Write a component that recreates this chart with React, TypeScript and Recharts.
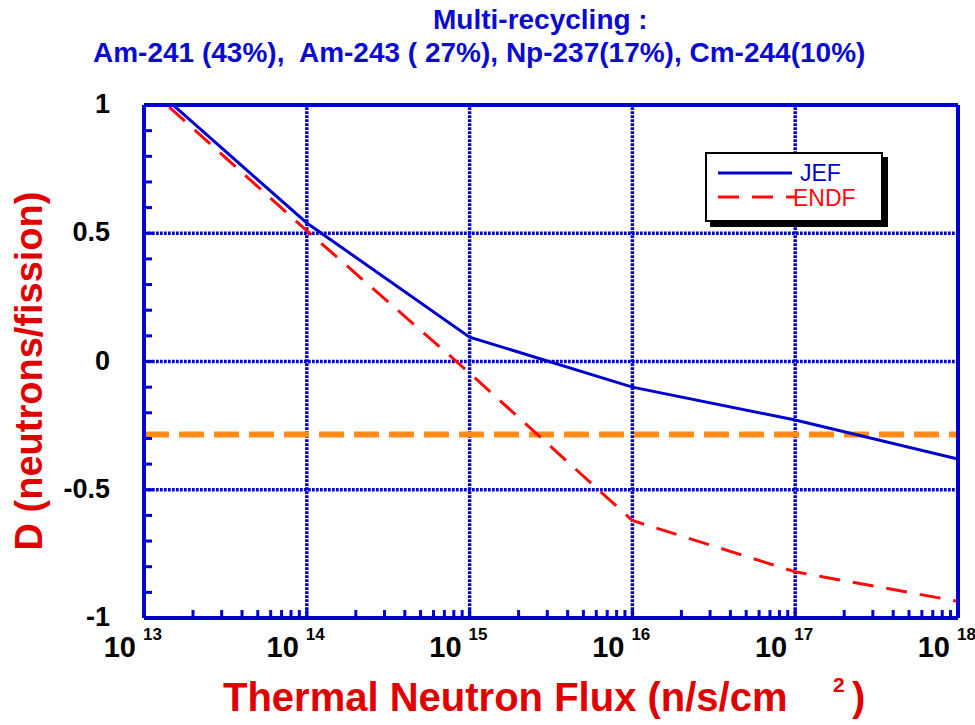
import { LineChart, Line, XAxis, YAxis, ReferenceLine, Legend } from 'recharts'

// values
const flux = [1e13, 1e14, 1e15, 1e16, 1e17, 1e18]
const jef = [1.1, 0.54, 0.095, -0.1, -0.228, -0.38]
const endf = [1.08, 0.51, -0.045, -0.62, -0.82, -0.935]
const threshold = -0.285

const decades = [1e13, 1e14, 1e15, 1e16, 1e17, 1e18]
const minorSteps = [1, 2, 3, 4, 5, 6, 7, 8, 9]
const yTicks = [-1, -0.9, -0.8, -0.7, -0.6, -0.5, -0.4, -0.3, -0.2, -0.1, 0, 0.1, 0.2, 0.3, 0.4, 0.5, 0.6, 0.7, 0.8, 0.9, 1]
const yLabels = [-1, -0.5, 0, 0.5, 1]
const xGrid = [1e14, 1e15, 1e16, 1e17]
const yGrid = [-0.5, 0, 0.5]

const seriesNames = ['JEF', 'ENDF']
const seriesColors = ['#0000cc', '#ff0a0a']
const seriesDash = [undefined, '21 13']

const data = flux.map((f, i) => ({ flux: f, jef: jef[i], endf: endf[i] }))
const xTicks = decades.flatMap(d => (d === 1e18 ? [d] : minorSteps.map(m => m * d)))

const BLUE = '#0000cc'
const FONT = '"Liberation Sans", Arial, sans-serif'

function FluxTick({ x, y, payload }: any) {
  const lg = Math.log10(payload.value)
  if (Math.abs(lg - Math.round(lg)) > 1e-6) return <g />
  return (
    <g fontFamily={FONT} fontWeight="bold" fill="#000">
      <text x={x - 8} y={y} textAnchor="end" fontSize={29}>10</text>
      <text x={x - 1} y={y - 17} fontSize={17}>{Math.round(lg)}</text>
    </g>
  )
}

function DTick({ x, y, payload }: any) {
  if (!yLabels.some(v => Math.abs(v - payload.value) < 1e-6)) return <g />
  return (
    <text x={x} y={y + 8} textAnchor="end" fontFamily={FONT} fontWeight="bold" fontSize={27} fill="#000">
      {payload.value}
    </text>
  )
}

function LegendBox() {
  return (
    <div style={{ width: 174, height: 66, border: '2px solid #000', boxShadow: '5px 5px 0 #000', background: '#fff' }}>
      <svg width={174} height={66} style={{ display: 'block' }}>
        {seriesNames.map((n, i) => (
          <g key={n}>
            <line x1={11} x2={i ? 88 : 85} y1={19 + i * 24} y2={19 + i * 24} stroke={seriesColors[i]} strokeWidth={3} strokeDasharray={seriesDash[i]} />
            <text x={i ? 86 : 93} y={27 + i * 25} fontFamily={FONT} fontSize={23} fill={seriesColors[i]}>{n}</text>
          </g>
        ))}
      </svg>
    </div>
  )
}

export default function App() {
  const gridStyle = { stroke: BLUE, strokeWidth: 3.5, strokeDasharray: '2.7 1.3' }
  return (
    <div style={{ position: 'absolute', left: 0, top: 0, width: 975, height: 725, background: '#fff' }}>
      <LineChart width={975} height={725} data={data} margin={{ top: 75, right: 0, bottom: 0, left: 0 }}>
        <XAxis
          xAxisId="main" dataKey="flux" type="number" scale="log" domain={[1e13, 1e18]} allowDataOverflow
          ticks={xTicks} interval={0} height={107} tickSize={-8} tickMargin={47}
          axisLine={{ stroke: BLUE, strokeWidth: 4 }} tickLine={{ stroke: BLUE, strokeWidth: 3 }} tick={<FluxTick />}
        />
        <XAxis
          xAxisId="top" orientation="top" type="number" scale="log" domain={[1e13, 1e18]} allowDataOverflow
          ticks={xTicks} interval={0} height={30} tickSize={-8} tick={false}
          axisLine={{ stroke: BLUE, strokeWidth: 4 }} tickLine={{ stroke: BLUE, strokeWidth: 3 }}
        />
        <YAxis
          yAxisId="left" type="number" domain={[-1, 1]} allowDataOverflow ticks={yTicks} interval={0}
          width={144} tickSize={-8} tickMargin={42}
          axisLine={{ stroke: BLUE, strokeWidth: 4 }} tickLine={{ stroke: BLUE, strokeWidth: 3 }} tick={<DTick />}
        />
        <YAxis
          yAxisId="right" orientation="right" type="number" domain={[-1, 1]} allowDataOverflow ticks={yTicks} interval={0}
          width={17} tickSize={-8} tick={false}
          axisLine={{ stroke: BLUE, strokeWidth: 4 }} tickLine={{ stroke: BLUE, strokeWidth: 3 }}
        />

        {xGrid.map(v => (
          <ReferenceLine key={'x' + v} x={v} xAxisId="main" yAxisId="left" {...gridStyle} />
        ))}
        {yGrid.map(v => (
          <ReferenceLine key={'y' + v} y={v} xAxisId="main" yAxisId="left" {...gridStyle} />
        ))}
        <ReferenceLine y={threshold} xAxisId="main" yAxisId="left" stroke="#ff8c1a" strokeWidth={6} strokeDasharray="25 10" />

        <Line xAxisId="main" yAxisId="left" dataKey="jef" name={seriesNames[0]} stroke={seriesColors[0]} strokeWidth={3} dot={false} isAnimationActive={false} />
        <Line xAxisId="main" yAxisId="left" dataKey="endf" name={seriesNames[1]} stroke={seriesColors[1]} strokeWidth={3} strokeDasharray={seriesDash[1]} dot={false} isAnimationActive={false} />

        <Legend layout="vertical" align="center" verticalAlign="middle" wrapperStyle={{ left: 705, top: 152, width: 'auto', height: 'auto' }} content={() => <LegendBox />} />

        <g fontFamily={FONT} fontWeight="bold">
          <text x={433} y={29} fontSize={28} fill="#0a0ad0">Multi-recycling :</text>
          <text x={93} y={62} fontSize={28} fill="#0a0ad0" style={{ whiteSpace: 'pre' }}>Am-241 (43%),  Am-243 ( 27%), Np-237(17%), Cm-244(10%)</text>
          <text x={223} y={711} fontSize={40} fill="#e00000">Thermal Neutron Flux (n/s/cm</text>
          <text x={833} y={692} fontSize={21} fill="#e00000">2</text>
          <text x={852} y={711} fontSize={40} fill="#e00000">)</text>
          <text transform="translate(42,371) rotate(-90)" textAnchor="middle" fontSize={38} fill="#e00000">D (neutrons/fission)</text>
        </g>
      </LineChart>
    </div>
  )
}
